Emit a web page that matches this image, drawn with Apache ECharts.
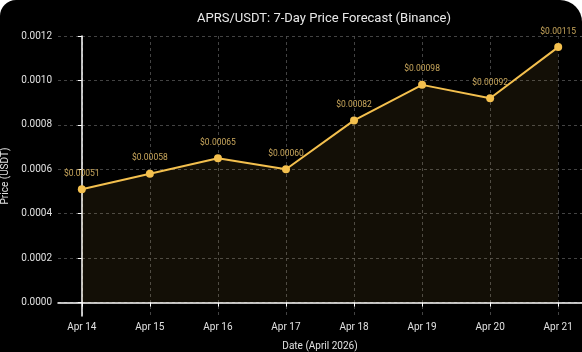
<!DOCTYPE html>
<html>
<head>
<meta charset="utf-8">
<script src="https://cdn.jsdelivr.net/npm/echarts@6/dist/echarts.min.js"></script>
<style>
  html, body { margin: 0; padding: 0; background: #ffffff; }
  #main { width: 582px; height: 352px; background: #000; border-radius: 16px 22px 0 0; overflow: hidden; }
</style>
</head>
<body>
<div id="main"></div>
<script>
var dates = ['Apr 14', 'Apr 15', 'Apr 16', 'Apr 17', 'Apr 18', 'Apr 19', 'Apr 20', 'Apr 21'];
var prices = [0.00051, 0.00058, 0.00065, 0.00060, 0.00082, 0.00098, 0.00092, 0.00115];
var yTicks = [0, 0.0002, 0.0004, 0.0006, 0.0008, 0.0010, 0.0012];

var points = prices.map(function (v, i) { return [i, v]; });
var xTicks = dates.map(function (d, i) { return i; });

var myChart = echarts.init(document.getElementById('main'));
var option = {
    backgroundColor: 'transparent',
    animation: false,
    title: {
        text: 'APRS/USDT: 7-Day Price Forecast (Binance)',
        left: 319,
        textAlign: 'center',
        top: 7,
        textStyle: { color: '#e8e8e8', fontSize: 13, fontWeight: 'normal', fontFamily: 'Roboto' }
    },
    grid: { left: 58, right: 0, top: 36, bottom: 36, outerBoundsMode: 'none', containLabel: false },
    xAxis: {
        type: 'value',
        min: -0.35,
        max: 7.35,
        name: 'Date (April 2026)',
        nameLocation: 'middle',
        nameGap: 25,
        nameTextStyle: { color: '#e0e0e0', fontSize: 10, fontFamily: 'Roboto' },
        axisLine: { lineStyle: { color: '#ffffff', width: 1.5 } },
        axisTick: { customValues: xTicks, length: 4, lineStyle: { color: '#ffffff' } },
        axisLabel: {
            customValues: xTicks,
            color: '#e0e0e0', fontSize: 10, fontFamily: 'Roboto', margin: 6,
            formatter: function (v) { return dates[Math.round(v)]; }
        },
        splitLine: { show: true, lineStyle: { color: '#555', type: [3, 3], width: 0.8 } }
    },
    yAxis: {
        type: 'value',
        min: -0.0000604,
        max: 0.0012,
        name: 'Price (USDT)',
        nameLocation: 'middle',
        nameGap: 48,
        nameTextStyle: { color: '#e0e0e0', fontSize: 10, fontFamily: 'Roboto' },
        axisLine: { show: true, lineStyle: { color: '#ffffff', width: 1.5 } },
        axisTick: { show: true, customValues: yTicks, length: 4, lineStyle: { color: '#ffffff' } },
        axisLabel: {
            customValues: yTicks,
            color: '#e0e0e0', fontSize: 10, fontFamily: 'Roboto', margin: 6,
            formatter: function (v) { return v.toFixed(4); }
        },
        splitLine: { show: true, lineStyle: { color: '#555', type: [3, 3], width: 0.8 } }
    },
    series: [{
        type: 'line',
        data: points,
        symbol: 'circle',
        symbolSize: 8,
        itemStyle: { color: '#f4c04e' },
        lineStyle: { color: '#f4c04e', width: 2 },
        areaStyle: { color: 'rgba(244,192,78,0.11)', origin: 0 },
        label: {
            show: true,
            position: 'top',
            distance: 7,
            color: '#c9a75c',
            fontSize: 8.5,
            fontFamily: 'Roboto',
            formatter: function (p) { return '$' + p.value[1].toFixed(5); }
        }
    }]
};
myChart.setOption(option);
</script>
</body>
</html>
